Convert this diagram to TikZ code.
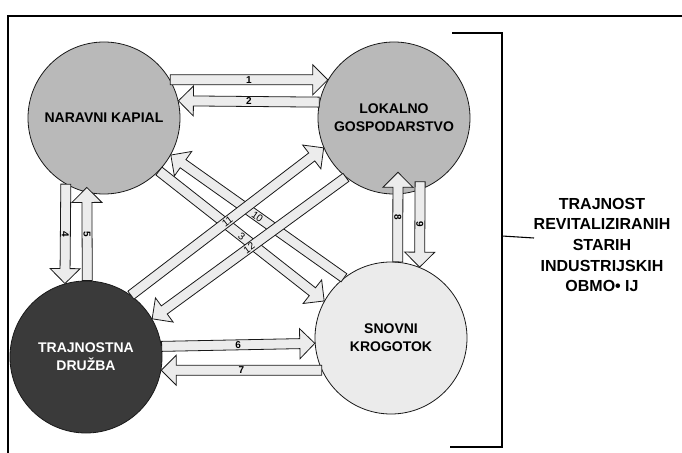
\documentclass[tikz,border=0pt]{standalone}
\usepackage{fontspec}
\setmainfont{Liberation Sans}
\setsansfont{Liberation Sans}
\usetikzlibrary{calc}
\definecolor{capital}{RGB}{185,185,185}
\definecolor{society}{RGB}{58,58,58}
\definecolor{loopgray}{RGB}{235,235,235}
\definecolor{flowfill}{RGB}{236,236,236}
\definecolor{edge}{RGB}{25,25,25}

% block arrow: [label options]{from}{to}{label}
\newcommand{\flowarrow}[4][]{%
  \coordinate (fh) at ($(#3)!11.25pt!(#2)$);
  \draw[flow] ($(#2)!3.75pt!90:(#3)$) -- ($(fh)!3.75pt!90:(#3)$) -- ($(fh)!11.25pt!90:(#3)$) -- (#3)
    -- ($(fh)!11.25pt!-90:(#3)$) -- ($(fh)!3.75pt!-90:(#3)$) -- ($(#2)!3.75pt!-90:(#3)$) -- cycle;
  \path (#2) -- (#3) node[midway,num,#1] {#4};
}

\begin{document}
\begin{tikzpicture}[x=0.75pt,y=-0.75pt,
  pole/.style={circle,draw=edge,line width=0.6pt,minimum size=114pt,inner sep=0pt,align=center,
    font=\fontsize{10.5}{13.5}\selectfont\bfseries},
  flow/.style={draw=edge,fill=flowfill,line width=0.6pt},
  num/.style={inner sep=0pt,font=\fontsize{7.5}{8}\selectfont\bfseries},
  cross/.style={sloped,font=\fontsize{7.5}{8}\selectfont}]
 \useasboundingbox (0,0) rectangle (682,453);
 \draw[line width=1.5pt] (8,453) -- (8,16) -- (682,16);
 \node[pole,fill=capital] (nk) at (104,118) {NARAVNI KAPIAL};
 \node[pole,fill=capital] (lg) at (394,118) {LOKALNO\\GOSPODARSTVO};
 \node[pole,fill=society,text=white] (td) at (86,357) {TRAJNOSTNA\\DRUŽBA};
 \node[pole,fill=loopgray] (sk) at (391,338) {SNOVNI\\KROGOTOK};
 \coordinate (nkin5) at ($(nk.-103)+(0,-5)$);
 \coordinate (lgin8) at ($(lg.-87)+(0,-22)$);
 \coordinate (lgin9) at ($(lg.-70)+(0,-8)$);
 % flows
 \flowarrow{nk.30}{lg.150}{1}
 \flowarrow{lg.168}{nk.13}{2}
 \flowarrow[cross]{nk.-44}{sk.151}{3}
 \flowarrow[rotate=-90]{nk.-120}{td.106}{4}
 \flowarrow[rotate=-90]{td.89}{nkin5}{5}
 \flowarrow{td.8}{sk.184}{6}
 \flowarrow{sk.205}{td.-10}{7}
 \flowarrow[rotate=-90]{sk.85}{lgin8}{8}
 \flowarrow[rotate=-90]{lgin9}{sk.68}{9}
 \flowarrow[cross]{sk.128}{nk.-29}{10}
 \flowarrow[cross]{td.54}{lg.203}{11}
 \flowarrow[cross]{lg.231}{td.30}{12}
 % bracket
 \draw[line width=1.1pt] (452,33) -- (502,33) -- (502,447) -- (450,447);
 \draw[line width=0.8pt] (502,236) -- (534,238);
 \node[align=center,font=\fontsize{12}{15.4}\selectfont\bfseries] (goal) at (602,245)
   {TRAJNOST\\REVITALIZIRANIH\\STARIH\\INDUSTRIJSKIH\\OBMO• IJ};
\end{tikzpicture}
\end{document}
